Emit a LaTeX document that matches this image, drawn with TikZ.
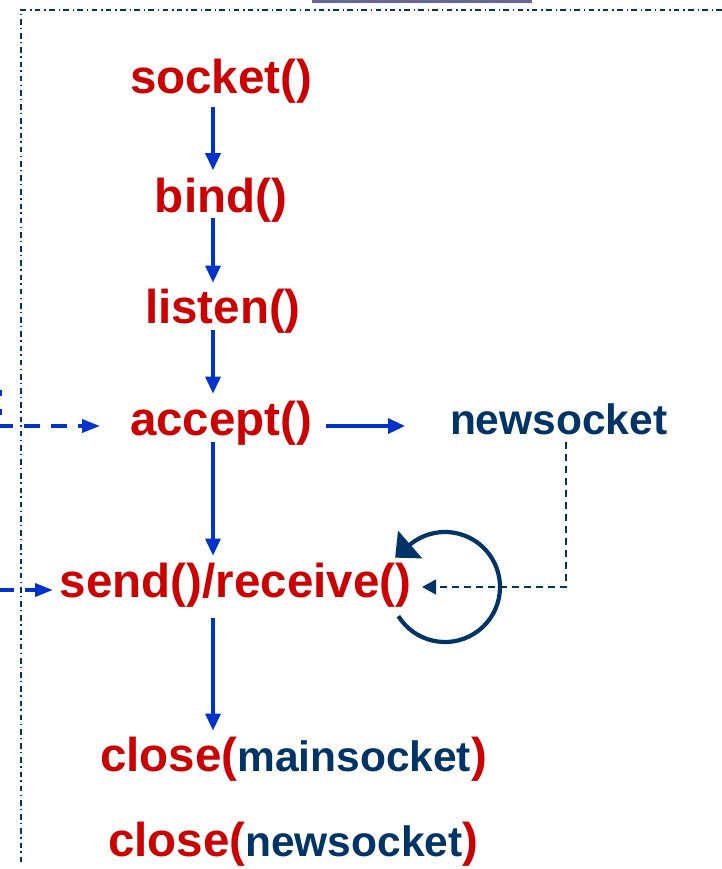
\documentclass[tikz,border=0pt]{standalone}
\usepackage{fontspec}
\setmainfont{Liberation Sans}
\usetikzlibrary{arrows.meta,calc}

\definecolor{fnred}{RGB}{204,0,0}
\definecolor{idnavy}{RGB}{0,51,102}
\definecolor{flowblue}{RGB}{0,51,204}
\definecolor{barpurple}{RGB}{102,102,153}

\newcommand\fnsize{\fontsize{23.75pt}{28pt}\selectfont}
\newcommand\idsize{\fontsize{21.25pt}{25pt}\selectfont}
\newcommand\ident[1]{{\idsize\color{idnavy}#1}}

\tikzset{
  call/.style={anchor=base west, inner sep=0pt, outer sep=0pt,
               text=fnred, font=\bfseries\fnsize},
  identnode/.style={anchor=base west, inner sep=0pt, outer sep=0pt,
               text=idnavy, font=\bfseries\idsize},
  flow/.style={draw=flowblue, line width=1.7pt,
               -{Triangle[length=8.5pt,width=7.5pt]}},
  wire/.style={draw=flowblue, line width=1.75pt, dash pattern=on 8pt off 5.5pt,
               -{Triangle[length=9pt,width=6.5pt]}},
  link/.style={draw=idnavy, line width=0.75pt, dash pattern=on 3.5pt off 2.5pt,
               -{Triangle[length=7pt,width=7.5pt]}},
  frame/.style={draw=idnavy, line width=0.7pt,
               dash pattern=on 2.8pt off 1.6pt on 0.7pt off 2pt},
  loop/.style={draw=idnavy, line width=2.1pt,
               -{Triangle[length=10pt,width=18pt]}}
}

\begin{document}
\begin{tikzpicture}[x=0.5pt,y=-0.5pt]
  \useasboundingbox (0,0) rectangle (722,869);

  % frame of the server side and its title bar
  \fill[barpurple] (312,0) rectangle (532,3);
  \draw[frame] (722,10) -- (21,10) -- (21,864);

  % server calls
  \node[call] (sock) at (130,93)  {socket()};
  \node[call] (bind) at (155,212) {bind()};
  \node[call] (lst)  at (145,323) {listen()};
  \node[call] (acc)  at (130,435) {accept()};
  \node[identnode] (news) at (450,434) {newsocket};
  \node[call] (sr)   at (60,597)  {send()/receive()};
  \node[call] (cm)   at (100,771) {close(\ident{mainsocket})};
  \node[call] (cn)   at (108,856) {close(\ident{newsocket})};

  % vertical axis of the call sequence
  \coordinate (axis) at (213,0);
  \coordinate (knee) at (566,587);
  \coordinate (in1) at (0,426);
  \coordinate (in2) at (0,590);
  \coordinate (ring) at (445,587);

  \draw[flow, shorten <=2pt, shorten >=3.7pt]  (sock.south -| axis) -- (bind.north -| axis);
  \draw[flow, shorten <=-2pt, shorten >=3pt]   (bind.south -| axis) -- (lst.north -| axis);
  \draw[flow, shorten <=-1.5pt, shorten >=3.5pt] (lst.south -| axis) -- (acc.north -| axis);
  \draw[flow, shorten <=-1.5pt, shorten >=3.5pt] (acc.south -| axis) -- (sr.north -| axis);
  \draw[flow, shorten <=5.5pt, shorten >=3pt]  (sr.south -| axis) -- (cm.north -| axis);

  % accept() hands out the new socket
  \draw[flow, shorten <=7pt, shorten >=22.5pt]
    ([yshift=-1.65pt]acc.east) -- ([yshift=-1.65pt]acc.east -| news.west);

  % the new socket is used for the data exchange
  \draw[link, shorten <=4pt, shorten >=5.5pt]
    (news.south -| knee) -- (knee) -- (sr.east |- knee);

  % repeated exchange
  \draw[loop] ($(ring)+(148:55)$) arc[start angle=148, end angle=-128, radius=55]
    -- ++(-16,14);

  % requests arriving from the client side
  \draw[draw=flowblue, line width=1.75pt, dash pattern=on 3pt off 6.5pt] (0,390) -- (0,415);
  \draw[wire, dash phase=1.5pt, shorten >=15pt] (in1) -- (acc.west |- in1);
  \draw[wire, dash phase=1pt, shorten >=3.5pt] (in2) -- (sr.west |- in2);
\end{tikzpicture}
\end{document}
